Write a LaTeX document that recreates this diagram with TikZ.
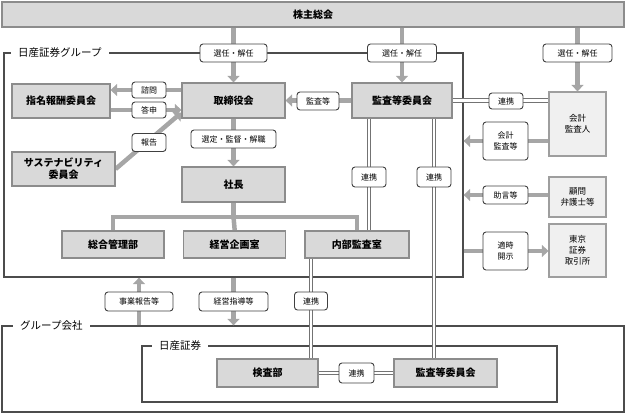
\documentclass[tikz,border=0pt]{standalone}
\usepackage{fontspec}
\setmainfont{Noto Sans CJK JP}
\usetikzlibrary{positioning,arrows.meta,backgrounds}

\begin{document}
\begin{tikzpicture}[
    x=1pt, y=-1pt,
    box/.style={rectangle, fill=black!15, draw=black!45, line width=1.2pt, inner sep=0pt, font=\fontsize{10}{12}\selectfont\bfseries, align=center},
    outer/.style={box, fill=black!6, draw=black!38, font=\fontsize{8.5}{11}\selectfont},
    tag/.style={rectangle, rounded corners=3pt, fill=white, draw=black!75, line width=0.9pt, inner sep=0pt, minimum height=18pt, font=\fontsize{8}{11}\selectfont, align=center},
    frame/.style={rectangle, draw=black!70, line width=1.3pt, inner sep=0pt},
    frametitle/.style={anchor=west, fill=white, inner xsep=7pt, inner ysep=2pt, font=\fontsize{10.5}{12}\selectfont},
    garrow/.style={draw=black!35, line width=4.5pt, -{Triangle[width=12pt,length=6.5pt]}},
    gline/.style={draw=black!35, line width=4.5pt},
    dline/.style={draw=black!55, double=white, double distance=2.2pt, line width=1.3pt}
]
\useasboundingbox (0,0) rectangle (626,414);

% Top: shareholders meeting
\node[box, minimum width=622pt, minimum height=25pt, line width=1.5pt] (soukai) at (313,14.5) {株主総会};

% Row 1: board, audit committee, nomination committee
\node[box, minimum width=103pt, minimum height=35pt] (torishimari) at (233.5,100.5) {取締役会};
\node[box, minimum width=100pt, minimum height=35pt] (kansa) at (402,100.5) {監査等委員会};
\node[box, minimum width=98pt, minimum height=34pt] (shimei) at (61,101) {指名報酬委員会};
\node[box, minimum width=103pt, minimum height=34pt] (sustain) at (63.5,169) {サステナビリティ\\委員会};

% Row 2: president and departments
\node[box, minimum width=103pt, minimum height=35pt] (shachou) at (233.5,184.5) {社長};
\node[box, minimum width=102pt, minimum height=27pt] (soumu) at (113,244.5) {総合管理部};
\node[box, minimum width=102pt, minimum height=27pt, right=18.5pt of soumu] (keiei) {経営企画室};
\node[box, minimum width=104pt, minimum height=27pt, right=18pt of keiei] (naibu) {内部監査室};

% Outside parties
\node[outer, minimum width=57pt, minimum height=64pt] (kaikei) at (577.5,124) {会計\\監査人};
\node[outer, minimum width=57pt, minimum height=40pt] (komon) at (577.5,197) {顧問\\弁護士等};
\node[outer, minimum width=57pt, minimum height=53pt] (tosho) at (577.5,250.5) {東京\\証券\\取引所};

% Group company: Nissan Securities
\node[box, minimum width=101pt, minimum height=28pt] (kensa) at (267.5,373) {検査部};
\node[box, minimum width=103pt, minimum height=28pt] (kansa2) at (445.5,373) {監査等委員会};

% Connector tags
\node[tag, minimum width=67pt] (sennin1) at (233.5,53) {選任・解任};
\node[tag, minimum width=69pt] (sennin2) at (402,53) {選任・解任};
\node[tag, minimum width=69pt] (sennin3) at (577.5,53) {選任・解任};
\node[tag, minimum width=34pt, minimum height=16pt] (shimon) at (149,90) {諮問};
\node[tag, minimum width=34pt, minimum height=16pt] (toushin) at (149,110) {答申};
\node[tag, minimum width=34pt] (houkoku) at (149,142.5) {報告};
\node[tag, minimum width=85pt] (sentei) at (233.5,139) {選定・監督・解職};
\node[tag, minimum width=42pt] (kansatou) at (318,101) {監査等};
\node[tag, minimum width=34pt, minimum height=16pt] (renkeiA) at (506,101) {連携};
\node[tag, minimum width=45pt, minimum height=38pt] (kaikeitou) at (505.5,141) {会計\\監査等};
\node[tag, minimum width=45pt] (jogen) at (505.5,195) {助言等};
\node[tag, minimum width=45pt, minimum height=38pt] (tekiji) at (505.5,251) {適時\\開示};
\node[tag, minimum width=34pt, minimum height=20pt] (renkeiB) at (369,177) {連携};
\node[tag, minimum width=34pt, minimum height=20pt] (renkeiC) at (434,177) {連携};
\node[tag, minimum width=33pt] (renkeiD) at (311,301) {連携};
\node[tag, minimum width=35pt, minimum height=20pt] (renkeiE) at (356.5,373) {連携};
\node[tag, minimum width=68pt, minimum height=19pt] (jigyou) at (139,301.5) {事業報告等};
\node[tag, minimum width=69pt, minimum height=19pt] (shidou) at (233.5,301.5) {経営指導等};

% Frame titles
\node[frametitle] (grpTitle) at (11,53) {日産証券グループ};
\node[frametitle] (kaishaTitle) at (13,326) {グループ会社};
\node[frametitle] (nissanTitle) at (152,346) {日産証券};

\begin{scope}[on background layer]
% ------------------ Frames ------------------
\node[frame, minimum width=459pt, minimum height=224pt] (grp) at (233.5,165) {};
\node[frame, minimum width=622pt, minimum height=86pt] (kaisha) at (313,369) {};
\node[frame, minimum width=415pt, minimum height=56pt] (nissan) at (349.5,374) {};

% ------------------ Connectors ------------------
\draw[garrow] (soukai.south -| torishimari) -- (torishimari.north);
\draw[garrow] (soukai.south -| kansa) -- (kansa.north);
\draw[garrow] (soukai.south -| kaikei) -- (kaikei.north);

\draw[garrow] (torishimari.west |- shimon) -- (shimei.east |- shimon);
\draw[garrow] (shimei.east |- toushin) -- (torishimari.west |- toushin);
\draw[garrow] (sustain.east) -- ([yshift=6pt]torishimari.south west);
\draw[garrow] (kansa.west) -- (torishimari.east);
\draw[garrow] (torishimari.south) -- (shachou.north);

% President to departments
\coordinate (branch) at (233.5,217);
\draw[gline] (shachou.south) -- (branch);
\draw[gline] (soumu.north) |- (branch) -| (naibu.north);
\draw[gline] (branch) -- (keiei.north);

% Outside parties and the group frame
\draw[garrow] (kaikei.west |- kaikeitou) -- (kaikeitou -| grp.east);
\draw[garrow] (komon.west |- jogen) -- (jogen -| grp.east);
\draw[garrow] (tekiji -| grp.east) -- (tosho.west |- tekiji);

% Group companies
\draw[garrow] (jigyou |- kaisha.north) -- (jigyou |- grp.south);
\draw[garrow] (shidou |- grp.south) -- (shidou |- kaisha.north);

% Cooperation (double lines)
\draw[dline] (kansa.east) -- (kaikei.west |- kansa.east);
\draw[dline] (renkeiB |- kansa.south) -- (renkeiB |- naibu.north);
\draw[dline] (renkeiC |- kansa.south) -- (renkeiC |- kansa2.north);
\draw[dline] (renkeiD |- naibu.south) -- (renkeiD |- kensa.north);
\draw[dline] (kensa.east) -- (kansa2.west);
\end{scope}

\end{tikzpicture}
\end{document}
